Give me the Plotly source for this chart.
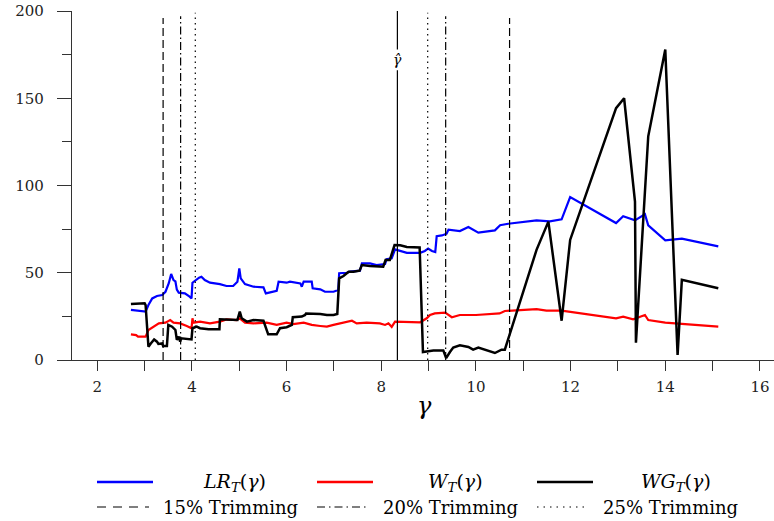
import plotly.graph_objects as go

# ---------------- data ----------------
lr_x = [2.71, 2.95, 3.02, 3.08, 3.16, 3.26, 3.37, 3.44, 3.47, 3.51,
        3.56, 3.61, 3.65, 3.68, 3.72, 3.85, 3.95, 3.99, 4.01, 4.06,
        4.15, 4.20, 4.27, 4.38, 4.59, 4.73, 4.87, 4.96, 5.00, 5.03,
        5.12, 5.30, 5.51, 5.56, 5.79, 5.83, 6.00, 6.07, 6.29, 6.32,
        6.36, 6.53, 6.55, 6.71, 6.81, 6.99, 7.09, 7.11, 7.27, 7.34,
        7.55, 7.59, 7.76, 7.90, 8.08, 8.11, 8.22, 8.29, 8.36, 8.40,
        8.54, 8.82, 8.92, 8.99, 9.07, 9.14, 9.17, 9.28, 9.38, 9.42,
        9.66, 9.84, 9.94, 10.05, 10.40, 10.51, 10.68, 11.28, 11.56, 11.81,
        11.99, 12.96, 13.11, 13.36, 13.57, 13.64, 14.00, 14.35, 15.12]
lr_y = [28.7, 28.1, 27.7, 31.5, 35.3, 36.7, 37.2, 39.1, 41.1, 44.0,
        49.3, 45.8, 45.0, 40.3, 38.6, 38.2, 36.3, 35.3, 44.3, 45.4,
        47.2, 47.7, 45.8, 44.3, 43.5, 42.4, 42.4, 44.9, 52.5, 46.8,
        43.5, 42.0, 41.6, 38.2, 39.7, 44.9, 44.3, 44.9, 43.9, 42.0,
        44.9, 44.9, 41.1, 40.5, 39.1, 39.1, 40.1, 49.7, 50.0, 50.6,
        51.2, 55.4, 55.4, 54.4, 55.0, 57.7, 58.3, 63.4, 62.8, 62.5,
        61.4, 61.4, 62.5, 63.9, 62.5, 61.9, 70.9, 71.4, 72.4, 74.7,
        73.9, 76.2, 74.7, 73.0, 74.3, 77.2, 78.1, 80.0, 79.5, 80.6,
        93.4, 78.5, 82.4, 80.0, 83.5, 77.2, 68.6, 69.5, 65.1]

w_x = [2.71, 2.82, 2.86, 3.02, 3.08, 3.20, 3.30, 3.44, 3.54, 3.61,
       3.75, 3.89, 3.99, 4.01, 4.03, 4.17, 4.38, 4.59, 4.73, 4.94,
       5.01, 5.12, 5.30, 5.58, 5.79, 6.00, 6.14, 6.36, 6.53, 6.71,
       6.85, 6.99, 7.13, 7.27, 7.38, 7.48, 7.69, 7.97, 8.08, 8.15,
       8.22, 8.29, 8.82, 8.96, 9.03, 9.13, 9.35, 9.49, 9.66, 10.00,
       10.50, 10.61, 11.28, 11.49, 11.81, 12.96, 13.11, 13.32, 13.57, 13.64,
       14.00, 15.12]
w_y = [14.7, 14.3, 13.4, 13.4, 17.2, 19.5, 21.0, 21.4, 22.9, 21.4,
       21.0, 19.5, 18.2, 23.9, 21.4, 22.0, 21.0, 22.0, 23.3, 22.9,
       23.9, 21.4, 21.0, 21.4, 20.1, 21.4, 20.6, 21.4, 20.1, 19.5,
       19.1, 20.1, 21.0, 22.0, 22.5, 21.0, 21.4, 21.0, 20.1, 21.0,
       19.0, 22.0, 21.6, 23.9, 25.8, 26.7, 27.1, 24.5, 25.8, 25.8,
       26.7, 28.1, 29.2, 28.3, 28.3, 23.9, 24.8, 23.3, 25.8, 22.9,
       21.4, 19.1]

wg_x = [2.71, 3.00, 3.02, 3.08, 3.13, 3.20, 3.26, 3.29, 3.37, 3.39,
        3.47, 3.50, 3.58, 3.65, 3.68, 3.72, 3.75, 3.77, 3.99, 4.01,
        4.10, 4.17, 4.35, 4.58, 4.59, 4.87, 4.96, 5.01, 5.05, 5.16,
        5.30, 5.51, 5.58, 5.61, 5.79, 5.86, 6.00, 6.11, 6.13, 6.32,
        6.39, 6.41, 6.71, 6.85, 6.99, 7.07, 7.11, 7.20, 7.31, 7.41,
        7.54, 7.59, 7.76, 8.04, 8.09, 8.18, 8.28, 8.40, 8.54, 8.81,
        8.88, 9.10, 9.31, 9.37, 9.45, 9.52, 9.66, 9.84, 9.94, 10.05,
        10.40, 10.54, 10.61, 11.28, 11.53, 11.81, 11.99, 12.96, 13.13, 13.36,
        13.38, 13.64, 14.00, 14.26, 14.35, 15.12]
wg_y = [32.1, 32.5, 31.5, 7.6, 9.5, 11.8, 10.5, 9.2, 9.5, 8.0,
        8.0, 20.1, 19.1, 17.2, 11.5, 13.4, 10.5, 12.4, 11.8, 18.2,
        19.1, 18.2, 17.6, 17.6, 23.3, 23.3, 22.9, 27.7, 23.9, 22.0,
        22.9, 22.5, 16.2, 14.7, 14.7, 18.2, 18.8, 20.1, 24.5, 24.9,
        25.8, 26.7, 26.4, 25.8, 25.8, 26.4, 46.8, 48.1, 50.6, 50.6,
        51.2, 54.4, 53.9, 53.5, 57.3, 57.3, 65.9, 65.7, 64.8, 64.5,
        4.6, 5.5, 5.5, 1.1, 4.6, 7.1, 8.4, 7.5, 5.9, 7.1,
        4.0, 5.9, 5.9, 63.1, 79.3, 22.5, 68.8, 144.3, 150.0, 90.8,
        9.9, 128.2, 177.9, 2.9, 45.9, 41.1]

trim15 = [3.39, 10.71]
trim20 = [3.76, 9.36]
trim25 = [4.07, 8.98]
gamma_hat = 8.34

series_names = ["<i>LR</i><sub><i>T</i></sub>(<i>γ</i>)",
                "<i>W</i><sub><i>T</i></sub>(<i>γ</i>)",
                "<i>WG</i><sub><i>T</i></sub>(<i>γ</i>)"]
trim_names = ["15% Trimming", "20% Trimming", "25% Trimming"]

# ---------------- figure ----------------
SERIF = "DejaVu Serif"
fig = go.Figure()
fig.add_trace(go.Scatter(x=lr_x, y=lr_y, mode="lines", name="LR",
                         line=dict(color="#0000FF", width=2.2), showlegend=False))
fig.add_trace(go.Scatter(x=w_x, y=w_y, mode="lines", name="W",
                         line=dict(color="#FF0000", width=2.2), showlegend=False))
fig.add_trace(go.Scatter(x=wg_x, y=wg_y, mode="lines", name="WG",
                         line=dict(color="#000000", width=2.5), showlegend=False))

shapes = []
for xv in trim15:
    shapes.append(dict(type="line", xref="x", yref="y", x0=xv, x1=xv, y0=0, y1=196,
                       line=dict(color="black", width=1.2, dash="8px,4px")))
for xv in trim20:
    shapes.append(dict(type="line", xref="x", yref="y", x0=xv, x1=xv, y0=0, y1=197,
                       line=dict(color="black", width=1.2, dash="8px,3px,1.5px,3px")))
for xv in trim25:
    shapes.append(dict(type="line", xref="x", yref="y", x0=xv, x1=xv, y0=0, y1=199,
                       line=dict(color="black", width=1.2, dash="1.5px,4px")))
shapes.append(dict(type="line", xref="x", yref="y", x0=gamma_hat, x1=gamma_hat, y0=0, y1=166,
                   line=dict(color="black", width=1.2)))
shapes.append(dict(type="line", xref="x", yref="y", x0=gamma_hat, x1=gamma_hat, y0=178, y1=200,
                   line=dict(color="black", width=1.2)))

def px2x(px):
    return (px - 72) / 702

def py2y(py):
    return (360 - py) / 349

annotations = [
    dict(x=gamma_hat, y=172, xref="x", yref="y", text="<i>γ̂</i>", showarrow=False,
         font=dict(family=SERIF, size=14, color="black")),
    dict(x=px2x(425), y=py2y(422), xref="paper", yref="paper",
         text="<i>γ</i>", showarrow=False, font=dict(family=SERIF, size=24, color="black")),
]

# manual legend (paper coordinates)
row1 = py2y(482)
row2 = py2y(507)
cols = [97, 317, 537]
line_colors = ["#0000FF", "#FF0000", "#000000"]
text_centers = [234, 455, 676]
for i in range(3):
    shapes.append(dict(type="line", xref="paper", yref="paper",
                       x0=px2x(cols[i]), x1=px2x(cols[i] + 56), y0=row1, y1=row1,
                       line=dict(color=line_colors[i], width=2.5)))
    annotations.append(dict(x=px2x(text_centers[i]), y=row1, xref="paper", yref="paper",
                            text=series_names[i], showarrow=False, xanchor="center",
                            yanchor="middle",
                            font=dict(family=SERIF, size=19, color="black")))
dashes = ["9px,7px", "8px,4px,1.5px,4px", "1.5px,5px"]
for i in range(3):
    shapes.append(dict(type="line", xref="paper", yref="paper",
                       x0=px2x(cols[i]), x1=px2x(cols[i] + 52), y0=row2, y1=row2,
                       line=dict(color="black", width=1.2, dash=dashes[i])))
    annotations.append(dict(x=px2x(cols[i] + 64), y=row2, xref="paper", yref="paper",
                            text=trim_names[i], showarrow=False, xanchor="left",
                            yanchor="middle",
                            font=dict(family=SERIF, size=18, color="black")))

fig.update_layout(
    width=774, height=521,
    margin=dict(l=72, r=0, t=11, b=521 - 360, autoexpand=False),
    paper_bgcolor="white", plot_bgcolor="white",
    shapes=shapes, annotations=annotations,
    showlegend=False,
    font=dict(family=SERIF, size=15, color="#222222"),
)
fig.update_xaxes(
    range=[1.465, 16.297], showgrid=False, zeroline=False, automargin=False,
    showline=True, linecolor="#333333", linewidth=1.2,
    tick0=0, dtick=2, ticks="outside", ticklen=10, tickwidth=1.2, tickcolor="#333333",
    minor=dict(dtick=1, ticks="outside", ticklen=10, tickwidth=1.2, tickcolor="#333333",
               showgrid=False),
    ticklabelstandoff=3, ticklabeloverflow="allow",
    tickfont=dict(family=SERIF, size=15, color="#222222"),
)
fig.update_yaxes(
    range=[0, 200], showgrid=False, zeroline=False, automargin=False,
    showline=True, linecolor="#333333", linewidth=1.2,
    tick0=0, dtick=50, ticks="outside", ticklen=14, tickwidth=1.2, tickcolor="#333333",
    minor=dict(dtick=25, ticks="outside", ticklen=9, tickwidth=1.2, tickcolor="#333333",
               showgrid=False),
    ticklabelstandoff=10, ticklabeloverflow="allow",
    tickfont=dict(family=SERIF, size=15, color="#222222"),
)

# remove the browser's default 8px body margin so the 774x521 figure fills the window
fig.write_html("out.html",
               config={"displayModeBar": False},
               post_script="document.body.style.margin='0';document.body.style.overflow='hidden';")
